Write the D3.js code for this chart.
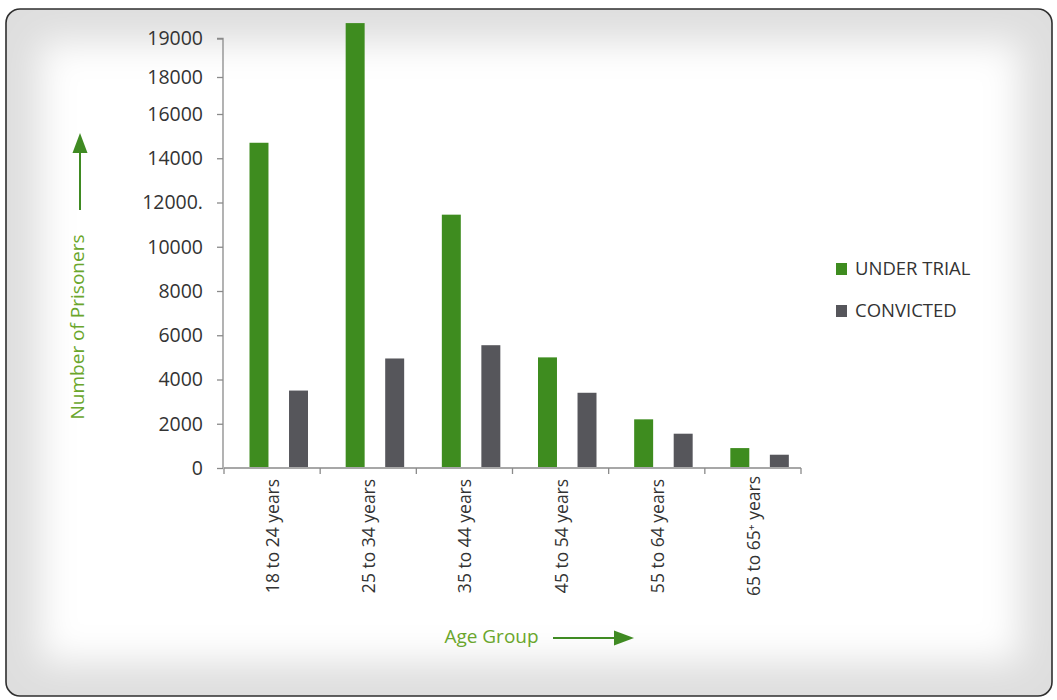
<!DOCTYPE html>
<html><head><meta charset="utf-8">
<script src="https://cdn.jsdelivr.net/npm/d3@7"></script>
<style>body{margin:0;background:#fff}svg{display:block}</style>
</head><body><svg id="c" width="1057" height="700"></svg>
<script>
const categories = ["18 to 24 years","25 to 34 years","35 to 44 years","45 to 54 years","55 to 64 years","65 to 65\u207A years"];
const series = ["UNDER TRIAL","CONVICTED"];
const underTrial = [14700,19400,11450,5000,2200,900];
const convicted = [3500,4950,5550,3400,1550,600];
const yTickValues = [0,2000,4000,6000,8000,10000,12000,14000,16000,18000,19000];
const yTickLabels = ["0","2000","4000","6000","8000","10000","12000.","14000","16000","18000","19000"];
const colors = ["#3e8c1f","#56565b"];
const yTitle = "Number of Prisoners";
const xTitle = "Age Group";

const svg = d3.select("#c");
const font = "'Open Sans', sans-serif";

// background frame with vignette
const defs = svg.append("defs");
defs.append("clipPath").attr("id","fr").append("rect")
  .attr("x",6).attr("y",9).attr("width",1046).attr("height",687).attr("rx",14);
defs.append("filter").attr("id","bl").attr("x","-10%").attr("y","-10%").attr("width","120%").attr("height","120%")
  .append("feGaussianBlur").attr("stdDeviation",18);
const bg = svg.append("g").attr("clip-path","url(#fr)");
bg.append("rect").attr("x",0).attr("y",0).attr("width",1057).attr("height",700).attr("fill","#dedede");
bg.append("rect").attr("x",40).attr("y",42).attr("width",980).attr("height",620).attr("fill","#ffffff").attr("filter","url(#bl)");
svg.append("rect").attr("x",6).attr("y",9).attr("width",1046).attr("height",687).attr("rx",14)
  .attr("fill","none").attr("stroke","#2f2f2f").attr("stroke-width",1.6);

// scales
const y = d3.scaleLinear().domain([0,16000,18000,19000]).range([468,114,77,38.5]);
const x0 = d3.scaleBand().domain(categories).range([224,801]).padding(0);
const x1 = d3.scaleBand().domain(series).range([25.5,84]).paddingInner(0.52).paddingOuter(0);
const data = categories.map((c,i)=>({c, vals:[underTrial[i],convicted[i]]}));

// bars
const groups = svg.append("g").selectAll("g").data(data).join("g")
  .attr("transform",d=>`translate(${x0(d.c)},0)`);
groups.selectAll("rect").data(d=>d.vals.map((v,j)=>({s:series[j],v,j}))).join("rect")
  .attr("x",d=>x1(d.s)).attr("width",x1.bandwidth())
  .attr("y",d=>y(d.v)).attr("height",d=>y(0)-y(d.v)-1)
  .attr("fill",d=>colors[d.j]);

// y axis
const yAxis = svg.append("g").attr("transform","translate(223,0)")
  .call(d3.axisLeft(y).tickValues(yTickValues).tickFormat((d,i)=>yTickLabels[i]).tickSize(6).tickPadding(14));
yAxis.select(".domain").attr("stroke","#8a8a8a").attr("stroke-width",1.3).attr("d",`M-6,${y(19000)}H0V${y(0)}`);
yAxis.selectAll(".tick line").attr("stroke","#8a8a8a").attr("stroke-width",1.3);
yAxis.selectAll(".tick text").attr("font-family",font).attr("font-size",19.5).attr("fill","#333");

// x axis
const xa = svg.append("g");
xa.append("line").attr("x1",x0.range()[0]).attr("x2",x0.range()[1]).attr("y1",y(0)).attr("y2",y(0))
  .attr("stroke","#8a8a8a").attr("stroke-width",1.3);
const bounds = categories.map(c=>x0(c)).concat([x0.range()[1]]);
xa.selectAll("line.t").data(bounds).join("line").attr("class","t")
  .attr("x1",d=>d).attr("x2",d=>d).attr("y1",y(0)).attr("y2",y(0)+6)
  .attr("stroke","#8a8a8a").attr("stroke-width",1.3);
xa.selectAll("text").data(categories).join("text")
  .attr("transform",d=>`translate(${x0(d)+x0.bandwidth()/2},536) rotate(-90)`)
  .attr("text-anchor","middle").attr("dominant-baseline","central")
  .attr("font-family",font).attr("font-size",17.5).attr("fill","#333").text(d=>d);

// legend
const lg = svg.append("g").selectAll("g").data(series).join("g")
  .attr("transform",(d,i)=>`translate(836,${263+i*42})`);
lg.append("rect").attr("width",11).attr("height",12).attr("fill",(d,i)=>colors[i]);
lg.append("text").attr("x",19).attr("y",12).attr("font-family",font).attr("font-size",18.5)
  .attr("fill","#333").text(d=>d);

// axis titles with arrows
const tGreen = "#6aa62c", aGreen = "#3f8a22";
svg.append("text").attr("transform","translate(77,327) rotate(-90)")
  .attr("text-anchor","middle").attr("dominant-baseline","central")
  .attr("font-family",font).attr("font-size",19).attr("fill",tGreen).text(yTitle);
svg.append("line").attr("x1",80).attr("x2",80).attr("y1",210).attr("y2",150)
  .attr("stroke",aGreen).attr("stroke-width",2);
svg.append("path").attr("d","M80,133L72.5,153L87.5,153Z").attr("fill",aGreen);

svg.append("text").attr("x",491.5).attr("y",643).attr("text-anchor","middle")
  .attr("font-family",font).attr("font-size",19).attr("fill",tGreen).text(xTitle);
svg.append("line").attr("x1",553).attr("x2",620).attr("y1",638).attr("y2",638)
  .attr("stroke",aGreen).attr("stroke-width",2);
svg.append("path").attr("d","M634,638L614,630.5L614,645.5Z").attr("fill",aGreen);
</script></body></html>
